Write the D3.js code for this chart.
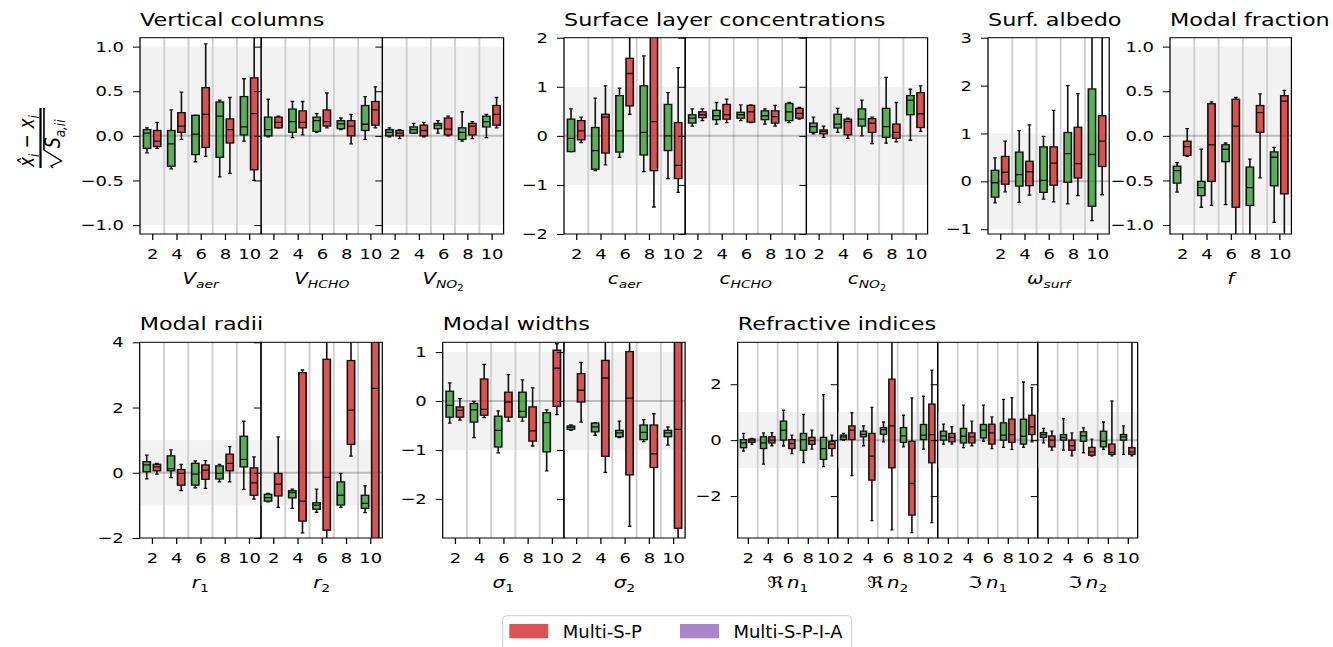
<!DOCTYPE html>
<html>
<head>
<meta charset="utf-8">
<script src="https://cdn.jsdelivr.net/npm/d3@7"></script>
<style>
  body { margin: 0; background: #fff; }
  text { font-family: "DejaVu Sans", sans-serif; fill: #000; }
</style>
</head>
<body>
<svg id="chart" width="1333" height="647"></svg>
<script>
// categories on every x axis
const cats = [2, 4, 6, 8, 10];

// each box: [whisker low, q1, median, q3, whisker high]
// Vertical columns
const vAerG = [[-0.19,-0.14,0.03,0.07,0.09],[-0.37,-0.34,-0.09,0.06,0.29],[-0.29,-0.21,0.02,0.23,0.23],[-0.46,-0.24,0.22,0.38,0.40],[-0.06,0.01,0.10,0.44,0.64]];
const vAerR = [[-0.14,-0.12,-0.06,0.06,0.15],[-0.04,0.04,0.11,0.26,0.49],[-0.23,-0.13,0.24,0.54,1.03],[-0.42,-0.08,0.07,0.19,0.43],[-0.50,-0.38,0.25,0.65,1.35]];
const vHchoG = [[-0.01,0.0,0.07,0.21,0.41],[-0.02,0.04,0.16,0.30,0.385],[0.04,0.05,0.17,0.21,0.25],[0.07,0.08,0.135,0.17,0.20],[-0.04,0.06,0.13,0.34,0.44]];
const vHchoR = [[0.09,0.09,0.15,0.21,0.22],[0.01,0.09,0.15,0.28,0.385],[0.09,0.11,0.16,0.29,0.48],[-0.09,0.0,0.11,0.17,0.24],[0.09,0.12,0.29,0.385,0.55]];
const vNo2G = [[-0.01,0.0,0.04,0.07,0.09],[0.03,0.03,0.07,0.10,0.14],[0.03,0.08,0.12,0.14,0.17],[-0.06,-0.04,0.04,0.09,0.27],[-0.02,0.10,0.16,0.22,0.24]];
const vNo2R = [[-0.03,0.0,0.03,0.06,0.07],[-0.01,0.0,0.06,0.12,0.15],[0.0,0.01,0.075,0.20,0.22],[-0.03,0.01,0.11,0.14,0.16],[0.09,0.12,0.24,0.34,0.43]];
// Surface layer concentrations
const cAerG = [[-0.32,-0.32,-0.05,0.34,0.55],[-0.71,-0.68,-0.30,0.17,0.77],[-0.44,-0.33,0.10,0.82,0.97],[-0.73,-0.39,0.07,1.02,1.63],[-0.87,-0.30,0.0,0.64,0.88]];
const cAerR = [[-0.14,-0.08,0.10,0.31,0.38],[-0.59,-0.35,0.38,0.44,1.02],[0.44,0.61,1.27,1.58,2.4],[-1.45,-0.71,0.29,2.2,3.2],[-1.15,-0.87,-0.60,0.27,1.39]];
const cHchoG = [[0.20,0.26,0.36,0.43,0.55],[0.24,0.33,0.41,0.52,0.68],[0.31,0.36,0.43,0.48,0.63],[0.24,0.33,0.41,0.51,0.55],[0.27,0.31,0.49,0.66,0.68]];
const cHchoR = [[0.31,0.37,0.43,0.49,0.55],[0.27,0.34,0.43,0.64,0.75],[0.27,0.28,0.49,0.62,0.63],[0.20,0.26,0.39,0.51,0.62],[0.34,0.36,0.46,0.56,0.58]];
const cNo2G = [[0.04,0.07,0.19,0.26,0.38],[0.07,0.16,0.24,0.44,0.56],[0.0,0.20,0.34,0.55,0.73],[-0.15,-0.03,0.19,0.56,1.19],[-0.09,0.43,0.73,0.82,0.95]];
const cNo2R = [[-0.03,0.04,0.09,0.12,0.20],[-0.05,0.02,0.29,0.34,0.36],[-0.16,0.07,0.26,0.35,0.38],[-0.12,-0.05,0.07,0.24,0.68],[0.09,0.17,0.45,0.88,1.02]];
// Surface albedo, modal fraction
const albG = [[-0.45,-0.33,-0.03,0.23,0.49],[-0.44,-0.10,0.14,0.61,1.06],[-0.37,-0.23,0.02,0.72,0.94],[-0.47,-0.02,0.58,1.02,2.0],[-0.82,-0.52,0.56,1.93,3.4]];
const albR = [[-0.22,-0.06,0.19,0.52,0.84],[-0.29,-0.09,0.20,0.42,1.18],[-0.43,-0.08,0.38,0.72,1.48],[-0.30,0.07,0.37,1.13,1.83],[-0.28,0.31,0.84,1.37,3.5]];
const fG = [[-0.63,-0.53,-0.39,-0.34,-0.30],[-0.80,-0.67,-0.58,-0.51,-0.15],[-0.77,-0.29,-0.15,-0.10,-0.08],[-1.25,-0.78,-0.58,-0.35,-0.26],[-0.97,-0.56,-0.24,-0.18,-0.13]];
const fR = [[-0.23,-0.22,-0.12,-0.06,0.08],[-0.78,-0.51,-0.10,0.36,0.38],[-1.25,-0.80,0.11,0.41,0.43],[-0.47,0.04,0.26,0.34,0.47],[-1.3,-0.65,0.39,0.45,0.51]];
// Modal radii
const r1G = [[-0.19,0.03,0.24,0.34,0.54],[-0.15,0.06,0.13,0.52,0.70],[-0.46,-0.38,-0.04,0.29,0.36],[-0.28,-0.19,-0.02,0.21,0.26],[-0.51,0.18,0.41,1.12,1.58]];
const r1R = [[-0.04,0.06,0.18,0.26,0.29],[-0.55,-0.38,-0.02,0.10,0.26],[-0.48,-0.20,0.08,0.24,0.37],[-0.28,0.06,0.29,0.57,0.80],[-0.81,-0.69,-0.31,0.15,0.49]];
const r2G = [[-0.89,-0.87,-0.76,-0.66,-0.63],[-1.09,-0.77,-0.61,-0.55,-0.50],[-1.21,-1.12,-0.99,-0.92,-0.50],[-1.06,-0.99,-0.69,-0.28,-0.02],[-1.22,-1.09,-0.94,-0.69,-0.40]];
const r2R = [[-1.06,-0.71,-0.35,-0.02,1.10],[-1.84,-1.48,-0.87,3.07,3.15],[-2.4,-1.76,-0.14,3.48,4.6],[0.51,0.87,1.92,3.44,4.4],[-2.7,-2.3,2.59,4.3,5.2]];
// Modal widths
const s1G = [[-0.45,-0.33,-0.09,0.20,0.37],[-0.75,-0.43,-0.18,-0.05,-0.01],[-1.06,-0.94,-0.60,-0.31,-0.20],[-0.41,-0.33,-0.21,0.18,0.43],[-1.43,-1.04,-0.44,-0.24,-0.18]];
const s1R = [[-0.39,-0.33,-0.19,-0.12,0.05],[-0.34,-0.29,-0.17,0.45,0.75],[-0.41,-0.33,-0.02,0.18,0.54],[-0.92,-0.82,-0.61,-0.12,0.27],[-0.28,-0.11,0.67,1.04,1.17]];
const s2G = [[-0.60,-0.58,-0.54,-0.51,-0.49],[-0.70,-0.63,-0.53,-0.45,-0.44],[-0.75,-0.73,-0.65,-0.60,-0.41],[-0.83,-0.79,-0.64,-0.49,-0.38],[-0.90,-0.73,-0.65,-0.60,-0.53]];
const s2R = [[-0.43,-0.02,0.22,0.56,0.79],[-1.46,-1.13,0.47,0.83,1.4],[-2.56,-1.51,0.06,1.01,1.45],[-3.0,-1.36,-1.08,-0.49,-0.26],[-3.1,-2.60,-0.58,1.3,1.6]];
// Refractive indices
const ren1G = [[-0.39,-0.27,-0.10,0.02,0.24],[-0.86,-0.30,-0.10,0.12,0.26],[-0.21,0.0,0.36,0.68,1.07],[-0.80,-0.36,0.02,0.24,0.92],[-0.95,-0.69,-0.30,0.10,1.63]];
const ren1R = [[-0.15,-0.08,0.0,0.04,0.06],[-0.20,-0.10,0.0,0.12,0.27],[-0.48,-0.30,-0.12,0.02,0.18],[-0.32,-0.15,-0.02,0.10,0.36],[-0.56,-0.30,-0.14,-0.04,0.18]];
const ren2G = [[0.0,0.02,0.12,0.18,0.24],[-0.20,0.12,0.21,0.32,0.51],[-0.06,0.21,0.38,0.45,0.65],[-0.24,-0.08,0.15,0.45,0.89],[-0.32,0.02,0.18,0.56,1.57]];
const ren2R = [[-1.27,0.02,0.36,0.51,0.98],[-2.88,-1.43,-0.57,0.24,1.17],[-3.21,-0.99,0.51,2.18,3.8],[-3.31,-2.68,-1.55,-0.04,1.51],[-2.95,-0.81,0.20,1.29,2.50]];
const imn1G = [[-0.14,0.0,0.15,0.32,0.57],[-0.27,-0.10,0.14,0.42,1.25],[-0.04,0.08,0.36,0.56,1.25],[-0.26,0.0,0.18,0.62,1.46],[-0.26,-0.14,0.14,0.75,2.08]];
const imn1R = [[-0.14,-0.06,0.10,0.24,0.48],[-0.20,-0.10,0.12,0.26,0.68],[-0.30,-0.14,0.26,0.57,0.83],[-0.33,-0.08,0.20,0.75,1.52],[-0.06,0.20,0.48,0.89,1.88]];
const imn2G = [[-0.10,0.10,0.20,0.27,0.42],[-0.36,0.0,0.10,0.20,0.77],[-0.45,-0.04,0.15,0.30,0.44],[-0.33,-0.24,-0.04,0.32,0.65],[-0.51,0.0,0.12,0.20,0.51]];
const imn2R = [[-0.36,-0.24,0.0,0.15,0.32],[-0.56,-0.36,-0.20,0.0,0.26],[-0.57,-0.54,-0.42,-0.26,0.04],[-0.56,-0.51,-0.44,-0.14,1.40],[-0.56,-0.51,-0.42,-0.27,4.0]];

// y tick values
const ticksHalf = [-1, -0.5, 0, 0.5, 1];
const ticksConc = [-2, -1, 0, 1, 2];
const ticksAlb = [-1, 0, 1, 2, 3];
const ticksRad = [-2, 0, 2, 4];
const ticksWid = [-2, -1, 0, 1];
const ticksRef = [-2, 0, 2];

const legendLabels = ['Multi-S-P', 'Multi-S-P-I-A'];
const tabGreen = '#2ca02c', tabRed = '#d62728', tabPurple = '#9467bd';

// the axes of the original are stretched horizontally
const SX = 1.24;
const px = v => v / SX;
const f1 = d3.format('.1f'), f0 = d3.format('d');

const groups = [
  {title: 'Vertical columns', left: 140, w: 121.2, top: 37.7, bottom: 234, domain: [-1.1, 1.1], ticks: ticksHalf, fmt: f1,
   subs: [{lab: [['V','i'],['aer','si']], g: vAerG, r: vAerR},
          {lab: [['V','i'],['HCHO','si']], g: vHchoG, r: vHchoR},
          {lab: [['V','i'],['NO','si'],['2','ssr']], g: vNo2G, r: vNo2R}]},
  {title: 'Surface layer concentrations', left: 564, w: 121.2, top: 37.7, bottom: 234, domain: [-2, 2], ticks: ticksConc, fmt: f0,
   subs: [{lab: [['c','i'],['aer','si']], g: cAerG, r: cAerR},
          {lab: [['c','i'],['HCHO','si']], g: cHchoG, r: cHchoR},
          {lab: [['c','i'],['NO','si'],['2','ssr']], g: cNo2G, r: cNo2R}]},
  {title: 'Surf. albedo', left: 988, w: 121.2, top: 37.7, bottom: 234, domain: [-1.1, 3], ticks: ticksAlb, fmt: f0,
   subs: [{lab: [['ω','i'],['surf','si']], g: albG, r: albR}]},
  {title: 'Modal fraction', left: 1170, w: 121.4, top: 37.7, bottom: 234, domain: [-1.1, 1.1], ticks: ticksHalf, fmt: f1,
   subs: [{lab: [['f','i']], g: fG, r: fR}]},
  {title: 'Modal radii', left: 139.7, w: 121.3, top: 342.3, bottom: 538, domain: [-2, 4], ticks: ticksRad, fmt: f0,
   subs: [{lab: [['r','i'],['1','sr']], g: r1G, r: r1R},
          {lab: [['r','i'],['2','sr']], g: r2G, r: r2R}]},
  {title: 'Modal widths', left: 442.7, w: 121.2, top: 342.3, bottom: 538, domain: [-2.8, 1.2], ticks: ticksWid, fmt: f0,
   subs: [{lab: [['σ','i'],['1','sr']], g: s1G, r: s1R},
          {lab: [['σ','i'],['2','sr']], g: s2G, r: s2R}]},
  {title: 'Refractive indices', left: 737.7, w: 100, top: 342.3, bottom: 538, domain: [-3.5, 3.5], ticks: ticksRef, fmt: f0,
   subs: [{lab: [['ℜ','r'],['\u2009n','i'],['1','sr']], g: ren1G, r: ren1R},
          {lab: [['ℜ','r'],['\u2009n','i'],['2','sr']], g: ren2G, r: ren2R},
          {lab: [['ℑ','r'],['\u2009n','i'],['1','sr']], g: imn1G, r: imn1R},
          {lab: [['ℑ','r'],['\u2009n','i'],['2','sr']], g: imn2G, r: imn2R}]}
];

const svg = d3.select('#chart');
const defs = svg.append('defs');
const plot = svg.append('g').attr('transform', `scale(${SX},1)`);

// mathtext-like label with subscripts
function mathText(t, parts, size) {
  const shifts = [0, 0.25 * size, 0.42 * size];
  const sizes = [size, size * 0.7, size * 0.5];
  let level = 0;
  parts.forEach(([s, kind]) => {
    const lv = kind.startsWith('ss') ? 2 : kind.startsWith('s') ? 1 : 0;
    t.append('tspan')
      .attr('dy', shifts[lv] - shifts[level])
      .style('font-size', sizes[lv] + 'px')
      .style('font-style', kind.endsWith('i') ? 'italic' : 'normal')
      .text(s);
    level = lv;
  });
}

function drawBoxes(g, stats, x, y, off, color) {
  const bw = 0.6, cw = 0.3;
  const b = g.selectAll(null)
    .data(stats.map((s, i) => ({s: s, c: cats[i] + off})))
    .join('g');
  b.append('line').attr('x1', d => x(d.c)).attr('x2', d => x(d.c))
    .attr('y1', d => y(d.s[0])).attr('y2', d => y(d.s[1]));
  b.append('line').attr('x1', d => x(d.c)).attr('x2', d => x(d.c))
    .attr('y1', d => y(d.s[3])).attr('y2', d => y(d.s[4]));
  b.append('line').attr('x1', d => x(d.c - cw / 2)).attr('x2', d => x(d.c + cw / 2))
    .attr('y1', d => y(d.s[0])).attr('y2', d => y(d.s[0]));
  b.append('line').attr('x1', d => x(d.c - cw / 2)).attr('x2', d => x(d.c + cw / 2))
    .attr('y1', d => y(d.s[4])).attr('y2', d => y(d.s[4]));
  b.append('rect')
    .attr('x', d => x(d.c - bw / 2)).attr('width', d => x(d.c + bw / 2) - x(d.c - bw / 2))
    .attr('y', d => y(d.s[3])).attr('height', d => y(d.s[1]) - y(d.s[3]))
    .attr('fill', color).attr('fill-opacity', 0.8);
  b.append('line').attr('x1', d => x(d.c - bw / 2)).attr('x2', d => x(d.c + bw / 2))
    .attr('y1', d => y(d.s[2])).attr('y2', d => y(d.s[2]));
  b.selectAll('line, rect').attr('stroke', '#111').attr('stroke-width', 1.3);
}

let clipId = 0;
groups.forEach(gr => {
  const left = px(gr.left), sw = px(gr.w);
  const y = d3.scaleLinear().domain(gr.domain).range([gr.bottom, gr.top]);
  const gg = plot.append('g');

  gg.append('text').attr('x', left).attr('y', gr.top - 12)
    .style('font-size', '18px').text(gr.title);

  gr.subs.forEach((s, i) => {
    const x0 = left + i * sw;
    const x = d3.scaleLinear().domain([1, 11]).range([x0, x0 + sw]);
    const id = 'clip' + (clipId++);
    defs.append('clipPath').attr('id', id).append('rect')
      .attr('x', x0).attr('y', gr.top).attr('width', sw).attr('height', gr.bottom - gr.top);

    const sg = gg.append('g');
    const inner = sg.append('g').attr('clip-path', `url(#${id})`);
    inner.append('rect').attr('x', x0).attr('width', sw)
      .attr('y', y(1)).attr('height', y(-1) - y(1)).attr('fill', '#f2f2f2');
    inner.selectAll('line.grid').data([3, 5, 7, 9]).join('line').attr('class', 'grid')
      .attr('x1', d => x(d)).attr('x2', d => x(d))
      .attr('y1', gr.top).attr('y2', gr.bottom)
      .attr('stroke', '#cfcfcf').attr('stroke-width', 1.5);
    inner.append('line').attr('x1', x0).attr('x2', x0 + sw)
      .attr('y1', y(0)).attr('y2', y(0))
      .attr('stroke', '#000').attr('stroke-opacity', 0.22).attr('stroke-width', 2);
    drawBoxes(inner, s.g, x, y, -0.42, tabGreen);
    drawBoxes(inner, s.r, x, y, 0.42, tabRed);

    sg.append('rect').attr('x', x0).attr('y', gr.top).attr('width', sw)
      .attr('height', gr.bottom - gr.top).attr('fill', 'none')
      .attr('stroke', '#000').attr('stroke-width', 1);

    // axes
    const ya = sg.append('g').attr('transform', `translate(${x0},0)`)
      .call(d3.axisLeft(y).tickValues(gr.ticks).tickSize(px(7)).tickPadding(px(9))
        .tickFormat(i === 0 ? gr.fmt : () => ''));
    const xa = sg.append('g').attr('transform', `translate(0,${gr.bottom})`)
      .call(d3.axisBottom(x).tickValues(cats).tickSize(6).tickPadding(9).tickFormat(f0));
    [ya, xa].forEach(a => {
      a.attr('font-size', null).attr('font-family', null);
      a.select('.domain').remove();
      a.selectAll('.tick line').attr('stroke', '#000').attr('stroke-width', 1);
      a.selectAll('.tick text').style('font-size', '14.5px').attr('fill', '#000');
    });

    const lt = sg.append('text').attr('x', x0 + sw / 2).attr('y', gr.bottom + 50)
      .attr('text-anchor', 'middle');
    mathText(lt, s.lab, 16);
  });
});

// y label: (x̂_i - x_i) / sqrt(S_a,ii)
const yl = plot.append('g').attr('transform', `translate(${px(40.5)},137) rotate(-90)`);
const num = yl.append('text').attr('x', -30).attr('y', -5.5);
mathText(num, [['x\u0302', 'i'], ['i', 'si'], [' \u2212 ', 'r'], ['x', 'i'], ['i', 'si']], 17);
yl.append('line').attr('x1', -31).attr('x2', 29).attr('y1', 0).attr('y2', 0)
  .attr('stroke', '#000').attr('stroke-width', 1.8);
yl.append('path').attr('d', 'M-31,10 L-29,8.5 L-24,17 L-13,2.8 L29,2.8')
  .attr('fill', 'none').attr('stroke', '#000').attr('stroke-width', 1.3);
const den = yl.append('text').attr('x', -11).attr('y', 15.7);
mathText(den, [['S', 'i'], ['a,ii', 'si']], 17);

// legend (not stretched)
const leg = svg.append('g');
leg.append('rect').attr('x', 502.7).attr('y', 615.7).attr('width', 349).attr('height', 50)
  .attr('rx', 4).attr('fill', '#fff').attr('stroke', '#cccccc').attr('stroke-width', 1);
const legX = [509.3, 680];
[tabRed, tabPurple].forEach((c, i) => {
  leg.append('rect').attr('x', legX[i]).attr('y', 624).attr('width', 39).attr('height', 14.3)
    .attr('fill', c).attr('fill-opacity', 0.8);
  leg.append('text').attr('x', legX[i] + 53.4).attr('y', 637.5)
    .style('font-size', '18px').text(legendLabels[i]);
});
</script>
</body>
</html>
